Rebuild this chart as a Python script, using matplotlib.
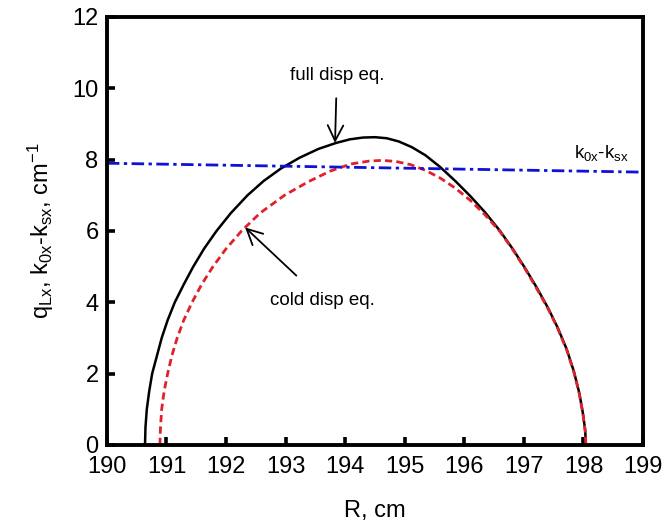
import matplotlib
matplotlib.use("Agg")
import matplotlib.pyplot as plt

plt.rcParams['font.family'] = ['Liberation Sans', 'DejaVu Sans']
plt.rcParams['mathtext.default'] = 'regular'

# full dispersion equation (black solid)
full_R = [190.64, 190.648, 190.67, 190.71, 190.76, 190.84, 190.92, 191.02, 191.14, 191.29,
          191.45, 191.63, 191.84, 192.08, 192.36, 192.63, 192.92, 193.23, 193.55, 193.85,
          194.08, 194.30, 194.50, 194.70, 194.90, 195.12, 195.35, 195.59, 195.85, 196.10,
          196.35, 196.60, 196.82, 197.02, 197.21, 197.40, 197.57, 197.72, 197.84, 197.93,
          197.99, 198.03, 198.04]
full_q = [0.00, 0.50, 1.00, 1.50, 2.00, 2.50, 3.00, 3.50, 4.00, 4.50,
          5.00, 5.50, 6.00, 6.50, 7.00, 7.40, 7.75, 8.05, 8.30, 8.47,
          8.57, 8.62, 8.63, 8.60, 8.51, 8.35, 8.12, 7.80, 7.40, 6.98,
          6.52, 6.00, 5.48, 4.96, 4.43, 3.86, 3.28, 2.68, 2.06, 1.46,
          0.90, 0.40, 0.00]

# cold dispersion equation (red dashed)
cold_R = [190.89, 190.90, 190.92, 190.96, 191.02, 191.09, 191.18, 191.29, 191.43, 191.59,
          191.78, 192.00, 192.26, 192.57, 192.98, 193.38, 193.75, 194.10, 194.40, 194.62,
          194.85, 195.10, 195.35, 195.60, 195.85, 196.10, 196.35, 196.60, 196.82, 197.02,
          197.21, 197.40, 197.57, 197.72, 197.84, 197.93, 197.99, 198.03, 198.04]
cold_q = [0.00, 0.50, 1.00, 1.50, 2.00, 2.50, 3.00, 3.50, 4.00, 4.50,
          5.00, 5.50, 6.00, 6.50, 7.00, 7.38, 7.68, 7.88, 7.96, 7.98,
          7.95, 7.86, 7.70, 7.48, 7.20, 6.86, 6.45, 5.98, 5.46, 4.94,
          4.40, 3.84, 3.26, 2.66, 2.04, 1.44, 0.88, 0.38, 0.00]

# k0x - ksx (blue dash-dot)
k_R = [190.0, 199.0]
k_q = [7.90, 7.65]

x_ticks = [190, 191, 192, 193, 194, 195, 196, 197, 198, 199]
y_ticks = [0, 2, 4, 6, 8, 10, 12]

fig = plt.figure(figsize=(6.68, 5.26), dpi=100)
ax = fig.add_axes([0.160, 0.154, 0.8026, 0.8137])

ax.plot(full_R, full_q, color='black', lw=1.8, solid_joinstyle='round')
ax.plot(cold_R, cold_q, color='#e0202a', lw=2.0, dashes=(2.6, 1.5))
ax.plot(k_R, k_q, color='#1010d8', lw=2.0, dashes=(4.5, 1.6, 1.2, 1.6))

ax.set_xlim(190, 199)
ax.set_ylim(0, 12)
ax.set_xticks(x_ticks)
ax.set_yticks(y_ticks)

for s in ax.spines.values():
    s.set_linewidth(2.8)
ax.tick_params(direction='in', length=6, width=2.6, labelsize=17,
               top=False, right=False)
ax.tick_params(axis='x', pad=8)
ax.tick_params(axis='y', pad=6)

ax.set_xlabel('R, cm', fontsize=17, labelpad=16)
ax.set_ylabel(r'q$_{Lx}$, k$_{0x}$-k$_{sx}$, cm$^{-1}$', fontsize=17, labelpad=12)

arrow = dict(arrowstyle='->', color='black', lw=1.3, mutation_scale=28)
ax.annotate('full disp eq.', xy=(193.83, 8.47), xytext=(193.86, 10.35),
            ha='center', va='center', fontsize=13.5,
            arrowprops=dict(arrow, shrinkA=8, shrinkB=0))
ax.annotate('cold disp eq.', xy=(192.32, 6.10), xytext=(193.62, 4.06),
            ha='center', va='center', fontsize=13.5,
            arrowprops=dict(arrow, shrinkA=14, shrinkB=0))
ax.text(198.3, 8.2, r'k$_{0x}$-k$_{sx}$', ha='center', va='center', fontsize=13.5)

fig.savefig('out.png', dpi=100)
